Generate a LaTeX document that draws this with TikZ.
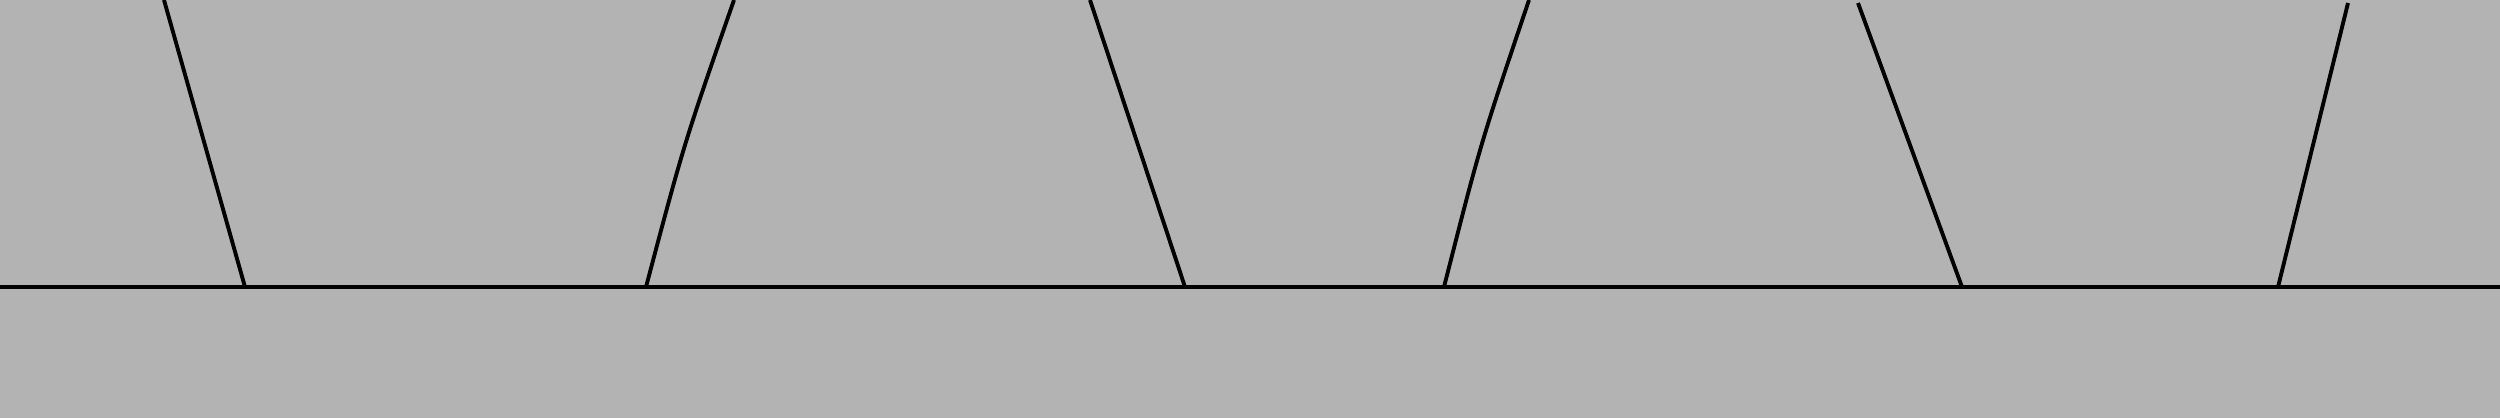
\documentclass[tikz,border=0pt]{standalone}
\definecolor{bggray}{RGB}{179,179,179}
\tikzset{ray/.style={black,line width=1.1pt},base/.style={black,line width=1.0pt}}
\begin{document}
\begin{tikzpicture}
\fill[bggray] (0,0) rectangle (25,4.18);
\useasboundingbox (0,0) rectangle (25,4.18);
\coordinate (L) at (0,1.31);
\coordinate (R) at (25,1.31);
\coordinate (t1) at (1.64,4.18); \coordinate (b1) at (2.45,1.31);
\coordinate (t2) at (7.34,4.18); \coordinate (b2) at (6.46,1.31);
\coordinate (t3) at (10.90,4.18); \coordinate (b3) at (11.85,1.31);
\coordinate (t4) at (15.29,4.18); \coordinate (b4) at (14.44,1.31);
\coordinate (t5) at (18.58,4.15); \coordinate (b5) at (19.62,1.31);
\coordinate (t6) at (23.48,4.15); \coordinate (b6) at (22.78,1.31);
\coordinate (c2) at (6.84,2.745);
\coordinate (c4) at (14.805,2.745);
\draw[base] (L) -- (R);
\draw[ray] (t1) -- (b1);
\draw[ray] (t2) .. controls (c2) .. (b2);
\draw[ray] (t3) -- (b3);
\draw[ray] (t4) .. controls (c4) .. (b4);
\draw[ray] (t5) -- (b5);
\draw[ray] (t6) -- (b6);
\end{tikzpicture}
\end{document}
